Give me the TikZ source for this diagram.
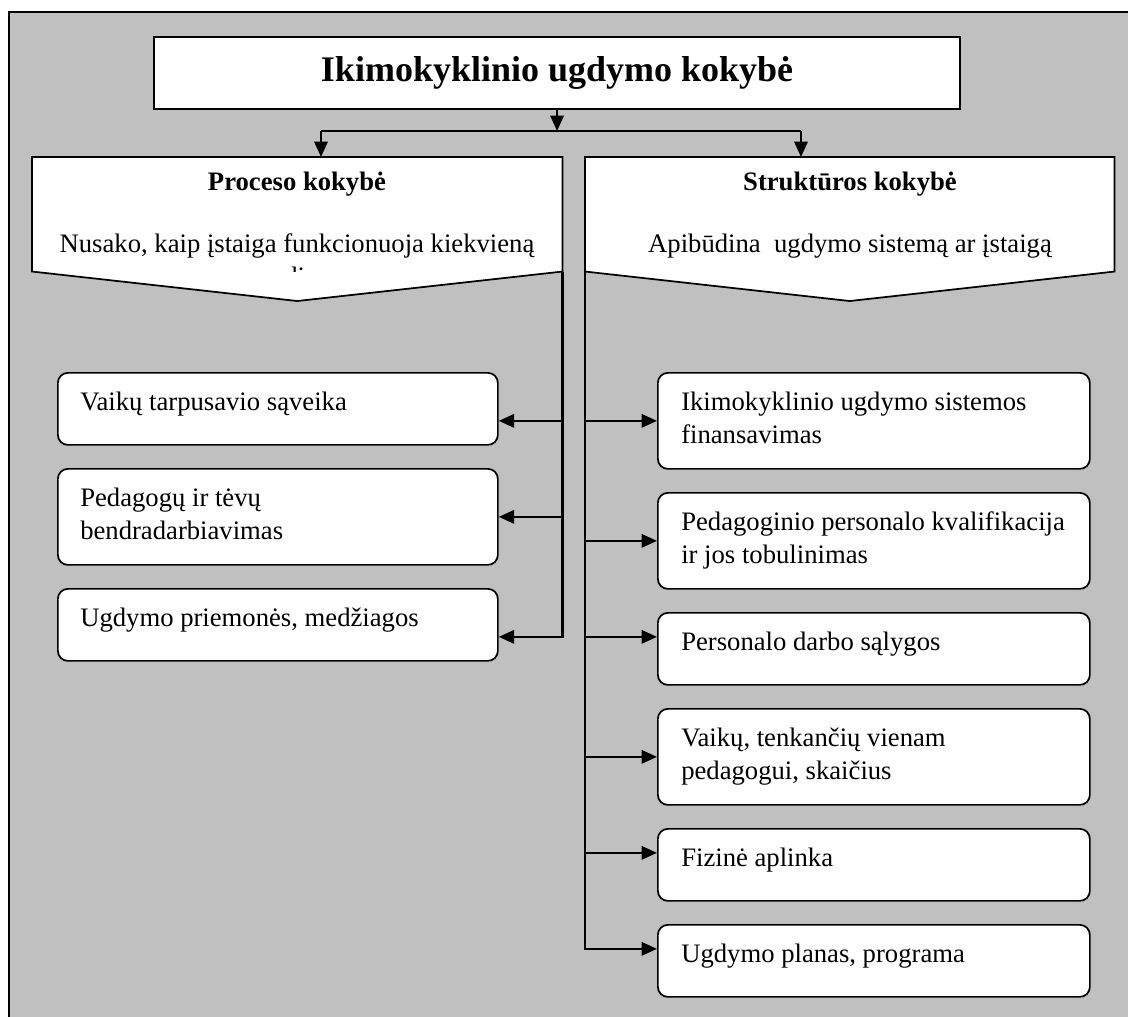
\documentclass[tikz,border=0pt]{standalone}
\usepackage{fontspec}
\setmainfont{Liberation Serif}
\usetikzlibrary{arrows.meta,calc}
\definecolor{bggray}{HTML}{C0C0C0}
\newcommand{\twolines}[2]{\begin{tabular}[t]{@{}l@{}}#1\\#2\end{tabular}}
\begin{document}
\begin{tikzpicture}[x=0.75pt,y=-0.75pt,
  conn/.style={line width=1.6pt},
  arr/.style={conn,-{Triangle[length=11.5pt,width=10pt]}},
  boxst/.style={draw,fill=white,line width=1.3pt,rounded corners=7.5pt,inner sep=0pt,anchor=north west},
  lbox/.style={boxst,minimum width=330pt},
  rbox/.style={boxst,minimum width=324pt},
  oneh/.style={minimum height=54pt},
  twoh/.style={minimum height=72pt},
  body/.style={inner sep=0pt,font=\fontsize{20}{24.45}\selectfont},
  txt/.style={body,anchor=base west},
  hdr/.style={inner sep=0pt,anchor=base,font=\bfseries\fontsize{20}{24.45}\selectfont},
  callout/.style={draw,fill=white,line width=1.3pt},
  frame/.style={inner sep=0pt,minimum height=85.5pt,anchor=north west}
]
\useasboundingbox (0,0) rectangle (1128,1017);
\fill[bggray] (9,12) rectangle (1150,1040);
\draw[line width=1.8pt] (9,1040) -- (9,12) -- (1150,12);

% title
\node[draw,fill=white,line width=1.6pt,minimum width=604.5pt,minimum height=54pt,inner sep=0pt,anchor=north west,
      font=\bfseries\fontsize{27}{30}\selectfont] (title) at (153,36) {Ikimokyklinio ugdymo kokybė};

% callouts
\node[frame,minimum width=397.5pt] (lc) at (32,157) {};
\node[frame,minimum width=396.75pt] (rc) at (585,157) {};
\draw[callout] (lc.north west) -- (lc.north east) -- (lc.south east) -- ($(lc.south)+(0,29.5)$) -- (lc.south west) -- cycle;
\draw[callout] (rc.north west) -- (rc.north east) -- (rc.south east) -- ($(rc.south)+(0,29.5)$) -- (rc.south west) -- cycle;
\node[hdr] (lch) at (297,190) {Proceso kokybė};
\node[body,anchor=base] (lcd) at (297,252) {Nusako, kaip įstaiga funkcionuoja kiekvieną};
\begin{scope}
  \clip (lc.north west) rectangle (lc.south east);
  \node[txt] (lcd2) at (284,285.5) {dieną};
\end{scope}
\node[hdr] (rch) at (850,190) {Struktūros kokybė};
\node[body,anchor=base] (rcd) at (850,252) {Apibūdina~ ugdymo sistemą ar įstaigą};

% top connectors
\coordinate (hy) at (0,131);
\coordinate (hl) at (321,131);
\coordinate (hr) at (801,131);
\draw[arr] (title.south) -- (title.south |- hy);
\draw[conn] (hl) -- (hr);
\draw[arr] (hl) -- (hl |- lc.north);
\draw[arr] (hr) -- (hr |- rc.north);

% left boxes
\node[lbox,oneh] (l1) at (57,372) {};
\node[lbox,twoh] (l2) at (57,468) {};
\node[lbox,oneh] (l3) at (57,588) {};
\node[txt] (l1t) at ($(l1.north west)+(23,38.5)$) {Vaikų tarpusavio sąveika};
\node[txt] (l2t) at ($(l2.north west)+(23,38.5)$) {\twolines{Pedagogų ir tėvų}{bendradarbiavimas}};
\node[txt] (l3t) at ($(l3.north west)+(23,38.5)$) {Ugdymo priemonės, medžiagos};

% right boxes
\node[rbox,twoh] (r1) at (657,372) {};
\node[rbox,twoh] (r2) at (657,492) {};
\node[rbox,oneh] (r3) at (657,612) {};
\node[rbox,twoh] (r4) at (657,708) {};
\node[rbox,oneh] (r5) at (657,828) {};
\node[rbox,oneh] (r6) at (657,924) {};
\node[txt] (r1t) at ($(r1.north west)+(24,38.5)$) {\twolines{Ikimokyklinio ugdymo sistemos}{finansavimas}};
\node[txt] (r2t) at ($(r2.north west)+(24,38.5)$) {\twolines{Pedagoginio personalo kvalifikacija}{ir jos tobulinimas}};
\node[txt] (r3t) at ($(r3.north west)+(24,38.5)$) {Personalo darbo sąlygos};
\node[txt] (r4t) at ($(r4.north west)+(24,38.5)$) {\twolines{Vaikų, tenkančių vienam}{pedagogui, skaičius}};
\node[txt] (r5t) at ($(r5.north west)+(24,38.5)$) {Fizinė aplinka};
\node[txt] (r6t) at ($(r6.north west)+(24,38.5)$) {Ugdymo planas, programa};

% left bus
\coordinate (l1a) at ($(l1.east)+(0,12)$);
\coordinate (l3a) at ($(l3.east)+(0,12)$);
\draw[arr] (lc.south east) |- (l3a);
\draw[arr] (lc.south east |- l1a) -- (l1a);
\draw[arr] (lc.south east |- l2.east) -- (l2.east);

% right bus
\coordinate (r3a) at ($(r3.west)+(0,-12)$);
\coordinate (r5a) at ($(r5.west)+(0,-12)$);
\coordinate (r6a) at ($(r6.west)+(0,-12)$);
\draw[arr] (rc.south west) |- (r6a);
\draw[arr] (rc.south west |- r1.west) -- (r1.west);
\draw[arr] (rc.south west |- r2.west) -- (r2.west);
\draw[arr] (rc.south west |- r3a) -- (r3a);
\draw[arr] (rc.south west |- r4.west) -- (r4.west);
\draw[arr] (rc.south west |- r5a) -- (r5a);
\end{tikzpicture}
\end{document}
